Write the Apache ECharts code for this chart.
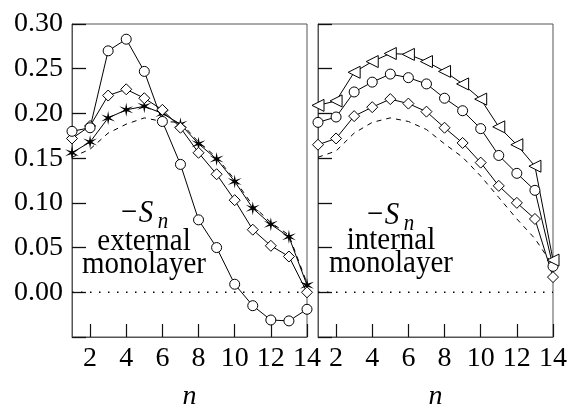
<!DOCTYPE html>
<html>
<head>
<meta charset="utf-8">
<script src="https://cdn.jsdelivr.net/npm/echarts@6/dist/echarts.min.js"></script>
<style>
  html, body { margin: 0; padding: 0; background: #fff; }
  #chart { width: 568px; height: 409px; }
</style>
</head>
<body>
<div id="chart"></div>
<script>
// ---- data ----
const nValues = [1, 2, 3, 4, 5, 6, 7, 8, 9, 10, 11, 12, 13, 14];
const zeroLine = 0;

// left panel: external monolayer
const extCircle  = [0.180, 0.184, 0.270, 0.283, 0.247, 0.191, 0.143, 0.081, 0.050, 0.009, -0.015, -0.031, -0.032, -0.019];
const extDiamond = [0.172, 0.186, 0.220, 0.227, 0.217, 0.204, 0.184, 0.156, 0.132, 0.103, 0.070, 0.052, 0.040, 0.000];
const extStar    = [0.156, 0.168, 0.195, 0.204, 0.208, 0.200, 0.188, 0.166, 0.149, 0.124, 0.094, 0.076, 0.062, 0.008];
const extDash    = [0.151, 0.160, 0.178, 0.188, 0.195, 0.191, 0.190, 0.168, 0.151, 0.126, 0.097, 0.078, 0.064, 0.010];

// right panel: internal monolayer
const intTriangle = [0.209, 0.214, 0.246, 0.258, 0.267, 0.266, 0.258, 0.247, 0.233, 0.216, 0.185, 0.165, 0.141, 0.036];
const intCircle   = [0.190, 0.196, 0.224, 0.235, 0.244, 0.240, 0.233, 0.217, 0.203, 0.183, 0.153, 0.133, 0.114, 0.029];
const intDiamond  = [0.165, 0.172, 0.197, 0.207, 0.216, 0.211, 0.202, 0.184, 0.167, 0.145, 0.119, 0.100, 0.082, 0.017];
const intDash     = [0.151, 0.158, 0.178, 0.190, 0.195, 0.191, 0.182, 0.166, 0.151, 0.130, 0.106, 0.082, 0.060, 0.030];

// ---- chart ----
const SERIF = '"Liberation Serif", "DejaVu Serif", serif';
const FRAME = '#555';
const STAR = 'path://M10 0 L11.25 7.835 L18.66 5 L12.5 10 L18.66 15 L11.25 12.165 L10 20 L8.75 12.165 L1.34 15 L7.5 10 L1.34 5 L8.75 7.835 Z';
const LTRI = 'path://M0 5 L10 0 L10 10 Z';

const evenN = (idx) => nValues[idx] % 2 === 0;

function xAxis(gi) {
  return {
    type: 'category', gridIndex: gi, data: nValues.map(String), boundaryGap: false,
    name: 'n', nameLocation: 'middle', nameGap: 46,
    nameTextStyle: { fontFamily: SERIF, fontStyle: 'italic', fontSize: 28, color: '#000' },
    axisLine: { show: true, onZero: false, lineStyle: { color: FRAME, width: 1 } },
    axisTick: { show: true, inside: true, length: 13, interval: evenN, lineStyle: { color: '#111', width: 1.2 } },
    axisLabel: { interval: evenN, margin: 8, fontFamily: SERIF, fontSize: 28, color: '#000' },
    splitLine: { show: false }
  };
}
function yAxis(gi, labels) {
  return {
    type: 'value', gridIndex: gi, min: -0.05, max: 0.30, interval: 0.05,
    axisLine: { show: true, lineStyle: { color: FRAME } },
    axisTick: { show: true, inside: true, length: 14, lineStyle: { color: '#111', width: 1.3 } },
    axisLabel: {
      show: labels, margin: 9, fontFamily: SERIF, fontSize: 28, color: '#000',
      formatter: v => (v < -0.001 ? '' : v.toFixed(2))
    },
    splitLine: { show: false }
  };
}
function markSeries(gi, ys, symbol, size, filled) {
  return {
    type: 'line', xAxisIndex: gi, yAxisIndex: gi, data: ys,
    symbol: symbol, symbolSize: size, showAllSymbol: true,
    lineStyle: { color: '#000', width: 1 },
    itemStyle: { color: filled ? '#000' : '#fff', borderColor: '#000', borderWidth: filled ? 0 : 1 },
    z: 3
  };
}
function dashSeries(gi, ys) {
  return {
    type: 'line', xAxisIndex: gi, yAxisIndex: gi, data: ys, symbol: 'none',
    lineStyle: { color: '#000', width: 1, type: [5, 5] }, z: 2
  };
}
function zeroSeries(gi) {
  return {
    type: 'line', xAxisIndex: gi, yAxisIndex: gi, data: nValues.map(() => zeroLine), symbol: 'none',
    lineStyle: { color: '#000', width: 1.5, type: [1.5, 7.5] }, z: 1
  };
}

function txt(x, y, s, size, italic) {
  return {
    type: 'text', x: x, y: y, z: 10, scaleY: 1.12, originX: 0, originY: 0,
    style: { text: s, fontFamily: SERIF, fontSize: size, fontStyle: italic ? 'italic' : 'normal',
             fill: '#000', align: 'center', verticalAlign: 'middle' }
  };
}

const chart = echarts.init(document.getElementById('chart'));
chart.setOption({
  animation: false,
  backgroundColor: '#fff',
  grid: [
    { left: 72, top: 24, width: 235, height: 313, show: true, borderColor: FRAME, outerBoundsMode: 'none' },
    { left: 318, top: 24, width: 235, height: 313, show: true, borderColor: FRAME, outerBoundsMode: 'none' }
  ],
  xAxis: [xAxis(0), xAxis(1)],
  yAxis: [yAxis(0, true), yAxis(1, false)],
  series: [
    zeroSeries(0),
    dashSeries(0, extDash),
    markSeries(0, extStar, STAR, 14, true),
    markSeries(0, extDiamond, 'diamond', 11, false),
    markSeries(0, extCircle, 'circle', 10, false),
    zeroSeries(1),
    dashSeries(1, intDash),
    markSeries(1, intDiamond, 'diamond', 11, false),
    markSeries(1, intCircle, 'circle', 10, false),
    markSeries(1, intTriangle, LTRI, 12, false)
  ],
  graphic: [
    txt(129, 213, '\u2212', 29, false),
    txt(146, 213, 'S', 29, true),
    txt(163, 222, 'n', 21, true),
    txt(144, 241, 'external', 29, false),
    txt(144, 264, 'monolayer', 29, false),
    txt(375, 215, '\u2212', 29, false),
    txt(392, 215, 'S', 29, true),
    txt(409, 224, 'n', 21, true),
    txt(391, 240, 'internal', 29, false),
    txt(391, 263, 'monolayer', 29, false)
  ]
});
</script>
</body>
</html>
